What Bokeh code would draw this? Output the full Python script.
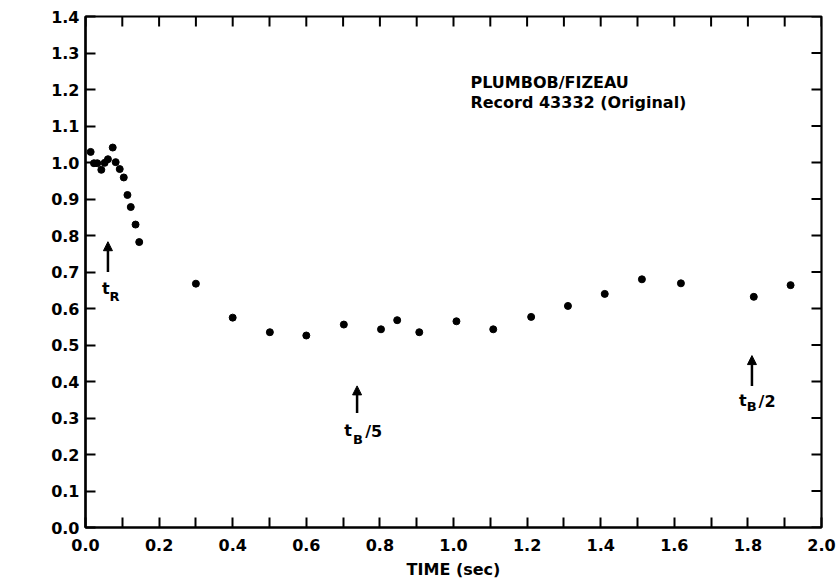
from bokeh.plotting import figure
from bokeh.models import (Range1d, LinearAxis, FixedTicker, Label, Arrow, NormalHead)
from bokeh.embed import file_html
from bokeh.resources import INLINE

# ---- data ----
time_sec = [0.014, 0.023, 0.032, 0.043, 0.052, 0.061, 0.074, 0.082, 0.093, 0.104,
            0.114, 0.123, 0.136, 0.146,
            0.300, 0.400, 0.501, 0.600, 0.702, 0.803, 0.847, 0.907, 1.008, 1.108,
            1.211, 1.311, 1.411, 1.512, 1.618, 1.816, 1.916]
amplitude = [1.029, 0.998, 0.998, 0.980, 0.999, 1.009, 1.041, 1.001, 0.982, 0.959,
             0.911, 0.878, 0.830, 0.782,
             0.668, 0.575, 0.535, 0.526, 0.556, 0.543, 0.568, 0.535, 0.565, 0.543,
             0.577, 0.607, 0.640, 0.680, 0.669, 0.632, 0.664]

x_major = [0.0, 0.2, 0.4, 0.6, 0.8, 1.0, 1.2, 1.4, 1.6, 1.8, 2.0]
x_minor = [0.1, 0.3, 0.5, 0.7, 0.9, 1.1, 1.3, 1.5, 1.7, 1.9]
y_major = [0.0, 0.1, 0.2, 0.3, 0.4, 0.5, 0.6, 0.7, 0.8, 0.9, 1.0, 1.1, 1.2, 1.3, 1.4]

# marker times for arrows: (x, y_tail, y_head)
arrow_tR = (0.061, 0.700, 0.783)
arrow_tB5 = (0.738, 0.314, 0.388)
arrow_tB2 = (1.811, 0.388, 0.471)

FONT = "DejaVu Sans"
X0, X1, Y0, Y1 = 0.0, 2.0, 0.0, 1.4
FRAME_W, FRAME_H = 736, 511
TICK_PX = 10

p = figure(width=837, height=588, output_backend="svg", toolbar_location=None,
           x_range=Range1d(X0, X1), y_range=Range1d(Y0, Y1),
           min_border_left=85, min_border_right=16, min_border_top=16,
           min_border_bottom=61, x_axis_location=None, y_axis_location=None)
p.xgrid.visible = False
p.ygrid.visible = False
p.outline_line_color = "black"
p.outline_line_width = 2.2
p.background_fill_color = "white"
p.border_fill_color = "white"


def style_axis(ax):
    ax.axis_line_width = 2.2
    ax.axis_line_color = "black"
    ax.major_tick_line_width = 2
    ax.minor_tick_line_width = 2
    ax.major_tick_in = TICK_PX
    ax.major_tick_out = 0
    ax.minor_tick_in = TICK_PX
    ax.minor_tick_out = 0
    ax.major_tick_line_color = "black"
    ax.minor_tick_line_color = "black"
    ax.major_label_text_font = FONT
    ax.major_label_text_font_style = "bold"
    ax.major_label_text_color = "black"
    ax.major_label_text_font_size = "16px"


xb = LinearAxis(ticker=FixedTicker(ticks=x_major, minor_ticks=x_minor))
style_axis(xb)
xb.major_label_standoff = 11
xb.major_label_overrides = {v: f"{v:.1f}" for v in x_major}
xb.axis_label = "TIME (sec)"
xb.axis_label_text_font = FONT
xb.axis_label_text_font_style = "bold"
xb.axis_label_text_font_size = "16px"
xb.axis_label_text_color = "black"
xb.axis_label_standoff = 6
p.add_layout(xb, "below")

yl = LinearAxis(ticker=FixedTicker(ticks=y_major, minor_ticks=[]))
style_axis(yl)
yl.major_label_standoff = 6
yl.major_label_overrides = {v: f"{v:.1f}" for v in y_major}
p.add_layout(yl, "left")

# inward ticks on the top and right frame edges (no labels)
dy_tick = TICK_PX * (Y1 - Y0) / FRAME_H
dx_tick = TICK_PX * (X1 - X0) / FRAME_W
top_ticks = x_major + x_minor
p.segment(x0=top_ticks, y0=[Y1] * len(top_ticks), x1=top_ticks,
          y1=[Y1 - dy_tick] * len(top_ticks), line_color="black", line_width=2)
p.segment(x0=[X1] * len(y_major), y0=y_major, x1=[X1 - dx_tick] * len(y_major),
          y1=y_major, line_color="black", line_width=2)

# data points
p.scatter(time_sec, amplitude, size=7, color="black")

# y axis letter
p.add_layout(Label(x=-0.183, y=0.706, text="A", text_font=FONT, text_font_style="bold",
                   text_font_size="17px", text_align="center", text_baseline="middle",
                   text_color="black"))

# record title
p.add_layout(Label(x=1.046, y=1.219, text="PLUMBOB/FIZEAU", text_font=FONT,
                   text_font_style="bold", text_font_size="16px", text_baseline="middle",
                   text_color="black"))
p.add_layout(Label(x=1.046, y=1.164, text="Record 43332 (Original)", text_font=FONT,
                   text_font_style="bold", text_font_size="16px", text_baseline="middle",
                   text_color="black"))

# arrows
for (ax_, y0, y1) in (arrow_tR, arrow_tB5, arrow_tB2):
    p.add_layout(Arrow(end=NormalHead(size=9, fill_color="black", line_color="black"),
                       x_start=ax_, y_start=y0, x_end=ax_, y_end=y1,
                       line_width=2.5, line_color="black"))


def time_label(x_t, y_t, sub, x_s, y_s, tail=None, x_tail=None, y_tail=None):
    p.add_layout(Label(x=x_t, y=y_t, text="t", text_font=FONT, text_font_style="bold",
                       text_font_size="16px", text_baseline="middle", text_color="black"))
    p.add_layout(Label(x=x_s, y=y_s, text=sub, text_font=FONT, text_font_style="bold",
                       text_font_size="13px", text_baseline="middle", text_color="black"))
    if tail:
        p.add_layout(Label(x=x_tail, y=y_tail, text=tail, text_font=FONT,
                           text_font_style="bold", text_font_size="16px",
                           text_baseline="middle", text_color="black"))


time_label(0.045, 0.655, "R", 0.065, 0.632)
time_label(0.703, 0.266, "B", 0.727, 0.242, "/5", 0.760, 0.263)
time_label(1.776, 0.347, "B", 1.797, 0.332, "/2", 1.829, 0.344)

open("out.html", "w").write(file_html(p, INLINE))
